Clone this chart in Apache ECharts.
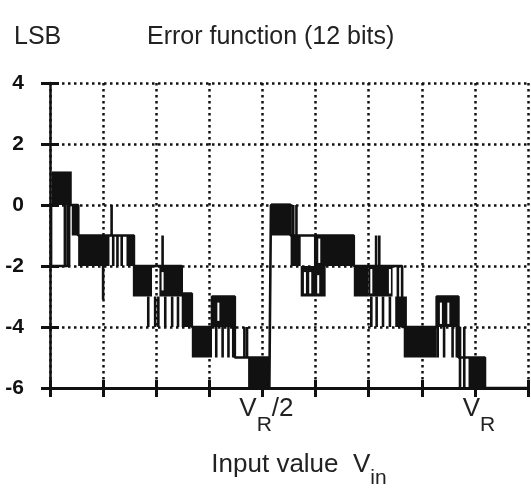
<!DOCTYPE html>
<html>
<head>
<meta charset="utf-8">
<script src="https://cdn.jsdelivr.net/npm/echarts@6.0.0/dist/echarts.min.js"></script>
<style>
  html, body { margin: 0; padding: 0; background: #fff; }
  #main { width: 531px; height: 498px; }
</style>
</head>
<body>
<div id="main"></div>
<script>
// axis values
var xTicks = [0, 1, 2, 3, 4, 5, 6, 7, 8, 9];
var xTickLabels = { 4: 'V_R/2', 8: 'V_R' };
var yTicks = [-6, -4, -2, 0, 2, 4];

// main staircase trace [x, y]
var trace = [
  [0.00, -2], [0.33, -2], [0.33, 0], [0.53, 0], [0.53, -1], [1.58, -1], [1.58, -2],
  [2.48, -2], [2.48, -2.9], [2.67, -2.9], [2.67, -4], [3.05, -4], [3.05, -3], [3.48, -3],
  [3.48, -5], [4.13, -5], [4.13, -6], [4.16, -6], [4.16, 0], [4.53, 0], [4.53, -1],
  [5.72, -1], [5.72, -2], [6.63, -2], [6.63, -4], [7.28, -4], [7.28, -3], [7.69, -3],
  [7.69, -5], [8.19, -5], [8.19, -6], [9.00, -6]
];

// dense toggling regions, filled [x0, x1, yTop, yBottom]
var blocks = [
  [0.03, 0.41, 1.1, 0],
  [0.41, 0.55, 0, -1],
  [0.53, 1.12, -1, -2],
  [1.44, 1.58, -1, -2],
  [1.56, 1.92, -2, -3],
  [2.06, 2.50, -2, -3],
  [2.48, 2.67, -2.9, -4],
  [2.67, 3.05, -4, -5],
  [3.05, 3.48, -3, -4],
  [3.73, 4.13, -5, -6],
  [4.16, 4.53, 0.05, -1],
  [4.53, 4.72, -1, -2],
  [4.72, 5.19, -2, -3],
  [4.97, 5.72, -1, -2],
  [5.72, 6.00, -2, -3],
  [6.00, 6.45, -2, -3],
  [6.50, 6.72, -3, -4],
  [6.66, 7.28, -4, -5],
  [7.28, 7.69, -3, -4],
  [7.88, 8.19, -5, -6]
];

// single glitches [x, yTop, yBottom]
var spikes = [
  [0.02, 0, -2], [0.28, 0, -2], [0.36, 0, -2],
  [1.00, -2, -3.1], [1.16, 0, -1],
  [1.19, -1, -2], [1.27, -1, -2], [1.35, -1, -2],
  [1.85, -3, -4], [1.98, -3, -4], [2.04, -3, -4], [2.17, -3, -4], [2.30, -3, -4], [2.41, -3, -4],
  [2.12, -1, -2],
  [3.13, -4, -5], [3.25, -4, -5], [3.36, -4, -5], [3.45, -4, -5],
  [3.66, -4, -5], [3.71, -4, -5],
  [4.58, 0, -1], [4.64, 0, -1],
  [6.05, -3, -4], [6.15, -3, -4], [6.27, -3, -4], [6.40, -3, -4], [6.55, -2, -4],
  [6.14, -1, -2], [6.20, -1, -2],
  [7.30, -4, -5], [7.42, -4, -5], [7.58, -4, -5], [7.66, -4, -5],
  [7.72, -4, -6], [7.80, -4, -6]
];

// light gaps inside the filled regions [x, yTop, yBottom]
var gaps = [
  [2.12, -2.2, -2.8], [3.17, -3.2, -3.8], [4.80, -2.2, -2.9], [4.90, -2.2, -2.9],
  [5.05, -2.3, -2.9], [5.07, -1.1, -1.9], [6.05, -2.1, -2.9], [6.40, -2.1, -2.9],
  [7.36, -3.2, -3.9], [7.50, -3.2, -3.9]
];

var INK = '#111';
var TXT = '#222';
var chart = echarts.init(document.getElementById('main'));

function rectItem(params, api) {
  var p0 = api.coord([api.value(0), api.value(2)]);
  var p1 = api.coord([api.value(1), api.value(3)]);
  return { type: 'rect', shape: { x: p0[0], y: p0[1], width: p1[0] - p0[0], height: p1[1] - p0[1] },
           style: { fill: INK } };
}
function lineItem(color, w) {
  return function (params, api) {
    var p0 = api.coord([api.value(0), api.value(1)]);
    var p1 = api.coord([api.value(0), api.value(2)]);
    return { type: 'rect', shape: { x: p0[0] - w / 2, y: p0[1], width: w, height: p1[1] - p0[1] },
             style: { fill: color } };
  };
}

var splitStyle = { show: true, lineStyle: { color: INK, width: 2.5, type: [2.5, 3.5] } };

chart.setOption({
  animation: false,
  backgroundColor: '#fff',
  title: [
    { text: 'LSB', left: 9, top: 20, textStyle: { fontFamily: 'Liberation Sans', fontSize: 25, fontWeight: 'normal', color: TXT } },
    { text: 'Error function (12 bits)', left: 142, top: 20, textStyle: { fontFamily: 'Liberation Sans', fontSize: 25, fontWeight: 'normal', color: TXT } }
  ],
  grid: { left: 50, right: 3, top: 83, bottom: 110 },
  xAxis: [
    {
      type: 'value', min: 0, max: 9, interval: 1, position: 'bottom',
      axisLine: { show: true, onZero: false, lineStyle: { color: INK, width: 3 } },
      axisTick: { show: true, length: 9, lineStyle: { color: INK, width: 3 } },
      splitLine: splitStyle,
      axisLabel: {
        margin: 8,
        formatter: function (v) {
          var t = xTickLabels[v];
          if (!t) return '';
          return t === 'V_R/2' ? '{p|}{v|V}{s|R}{v|/2}' : '{p|}{v|V}{s|R}';
        },
        rich: {
          p: { width: 8 },
          v: { fontFamily: 'Liberation Sans', fontSize: 26, color: TXT, verticalAlign: 'top', padding: [0, 0, 14, 0] },
          s: { fontFamily: 'Liberation Sans', fontSize: 21, color: TXT, verticalAlign: 'bottom', padding: [16, 0, 0, 0] }
        }
      },
      name: '{t|Input value  V}{s|in}',
      nameLocation: 'middle', nameGap: 64,
      nameTextStyle: {
        padding: [0, 0, 0, 20],
        rich: {
          t: { fontFamily: 'Liberation Sans', fontSize: 26, color: TXT, padding: [0, 0, 12, 0] },
          s: { fontFamily: 'Liberation Sans', fontSize: 21, color: TXT, padding: [14, 0, 0, 0] }
        }
      }
    },
    {
      type: 'value', min: 0, max: 9, interval: 1, position: 'bottom',
      axisLine: { show: false, onZero: false },
      axisTick: { show: true, inside: true, length: 8, lineStyle: { color: INK, width: 3 } },
      splitLine: { show: false }, axisLabel: { show: false }
    }
  ],
  yAxis: [
    {
      type: 'value', min: -6, max: 4, interval: 2, position: 'left',
      axisLine: { show: true, onZero: false, lineStyle: { color: INK, width: 2.5 } },
      axisTick: { show: true, length: 9, lineStyle: { color: INK, width: 3 } },
      splitLine: splitStyle,
      axisLabel: { margin: 26, fontFamily: 'Liberation Sans', fontWeight: 'bold', fontSize: 21, color: INK }
    },
    {
      type: 'value', min: -6, max: 4, interval: 2, position: 'left',
      axisLine: { show: false, onZero: false },
      axisTick: { show: true, inside: true, length: 9, lineStyle: { color: INK, width: 3 } },
      splitLine: { show: false }, axisLabel: { show: false }
    }
  ],
  series: [
    {
      type: 'custom', xAxisIndex: 0, yAxisIndex: 0, renderItem: rectItem,
      encode: { x: [0, 1], y: [2, 3] }, data: blocks, z: 3
    },
    {
      type: 'custom', xAxisIndex: 0, yAxisIndex: 0, renderItem: lineItem(INK, 2.6),
      encode: { x: 0, y: [1, 2] }, data: spikes, z: 4
    },
    {
      type: 'custom', xAxisIndex: 0, yAxisIndex: 0, renderItem: lineItem('#fff', 2),
      encode: { x: 0, y: [1, 2] }, data: gaps, z: 5
    },
    {
      type: 'line', xAxisIndex: 0, yAxisIndex: 0, data: trace, symbol: 'none',
      lineStyle: { color: INK, width: 2.6 }, z: 6
    }
  ]
});
</script>
</body>
</html>
